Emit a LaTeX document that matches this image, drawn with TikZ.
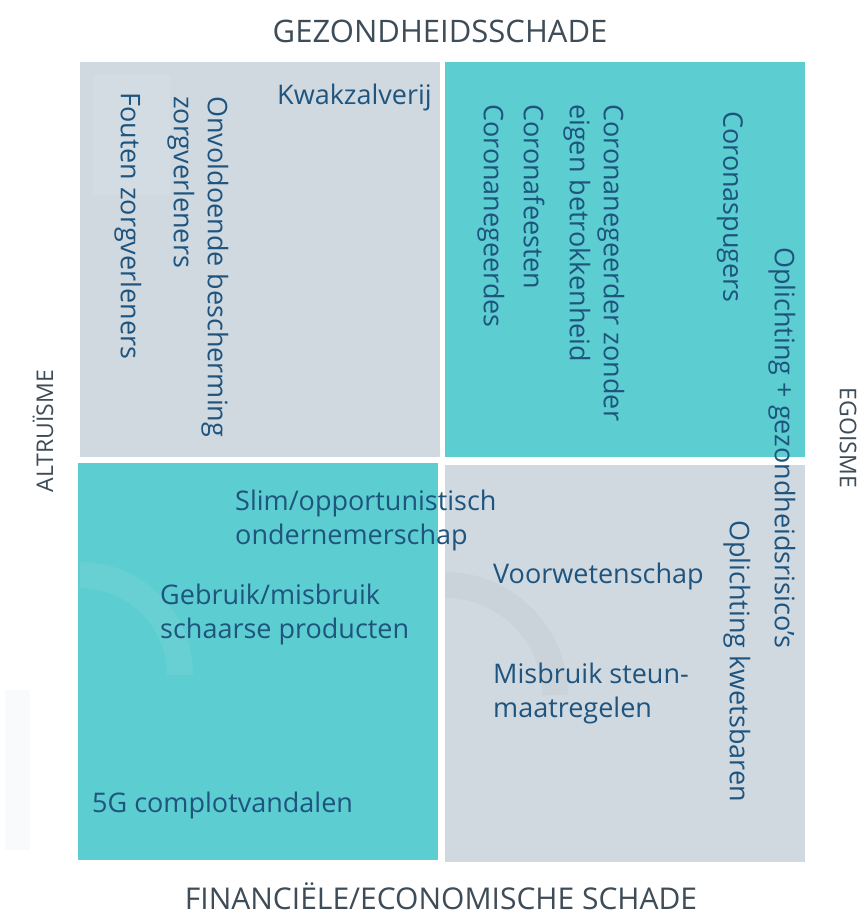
\documentclass[tikz,border=0pt]{standalone}
\usepackage{fontspec}
\setmainfont{Open Sans}
\definecolor{grijs}{RGB}{208,217,224}
\definecolor{turkoois}{RGB}{92,205,208}
\definecolor{tekst}{RGB}{30,84,126}
\definecolor{kop}{RGB}{62,76,88}
\begin{document}
\begin{tikzpicture}[x=1pt,y=-1pt,
    item/.style={text=tekst,inner sep=0pt,align=left,font=\fontsize{27}{34}\selectfont},
    vert/.style={item,rotate=-90,anchor=west},
    hor/.style={item,anchor=west},
    as/.style={text=kop,inner sep=0pt}]
  \fill[white] (0,0) rectangle (865,923);

  % vier kwadranten
  \fill[grijs] (80,62) rectangle (440,457);
  \fill[turkoois] (445,62) rectangle (805,457);
  \fill[turkoois] (78,463) rectangle (438,860);
  \fill[grijs] (445,465) rectangle (805,862);

  % vage watermerk-bogen
  \fill[white,opacity=.1] (93,75) rectangle (170,195);
  \draw[white,opacity=.08,line width=26pt] (80,575) arc (-90:0:100);
  \draw[kop,opacity=.04,line width=26pt] (445,585) arc (-90:0:110);
  \fill[grijs!40,opacity=.3] (5,690) rectangle (30,850);

  % assen
  \node[as,font=\fontsize{31}{31}\selectfont] (gezond) at (440,31) {GEZONDHEIDSSCHADE};
  \node[as,font=\fontsize{30}{30}\selectfont] (financ) at (441,896) {FINANCIËLE/ECONOMISCHE SCHADE};
  \node[as,rotate=90,font=\fontsize{23}{23}\selectfont] (altru) at (43,431) {ALTRUÏSME};
  \node[as,rotate=-90,font=\fontsize{23}{23}\selectfont] (ego) at (848,438) {EGOISME};

  % linksboven
  \node[vert] (fouten) at (128,92) {Fouten zorgverleners};
  \node[vert] (onvold) at (198,96) {Onvoldoende bescherming\\zorgverleners};
  \node[hor] (kwak) at (277,97) {Kwakzalverij};

  % rechtsboven
  \node[vert] (negeerdes) at (491,104) {Coronanegeerdes};
  \node[vert] (feesten) at (534,104) {Coronafeesten};
  \node[vert] (zonder) at (594,104) {Coronanegeerder zonder\\eigen betrokkenheid};
  \node[vert] (spugers) at (730,111) {Coronaspugers};
  \node[vert] (oplgez) at (782,247) {Oplichting + gezondheidsrisico's};

  % linksonder
  \node[hor] (slim) at (235,520) {Slim/opportunistisch\\ondernemerschap};
  \node[hor] (schaars) at (160,614) {Gebruik/misbruik\\schaarse producten};
  \node[hor] (vijfg) at (92,805) {5G complotvandalen};

  % rechtsonder
  \node[hor] (voorw) at (493,576) {Voorwetenschap};
  \node[hor] (steun) at (493,693) {Misbruik steun-\\maatregelen};
  \node[vert] (kwets) at (737,520) {Oplichting kwetsbaren};
\end{tikzpicture}
\end{document}
